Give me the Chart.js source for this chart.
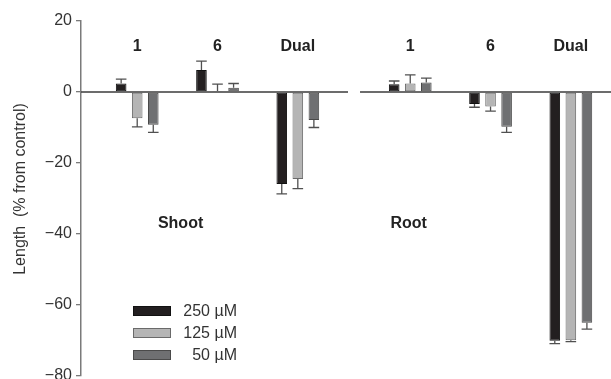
<!DOCTYPE html>
<html>
<head>
<meta charset="utf-8">
<script src="https://cdn.jsdelivr.net/npm/chart.js@4.4.1/dist/chart.umd.min.js"></script>
<style>
  html, body { margin: 0; padding: 0; background: #fff; }
  #wrap { width: 611px; height: 379px; }
</style>
</head>
<body>
<div id="wrap"><canvas id="myChart" width="611" height="379"></canvas></div>
<script>
const groups = ['1', '6', 'Dual'];
const panels = ['Shoot', 'Root'];
const doses = ['250 µM', '125 µM', '50 µM'];

// % change in length vs control
const shoot250 = [2.4, 6.2, -25.9];
const shoot125 = [-7.4, 0.3, -24.5];
const shoot50 = [-9.2, 1.2, -7.9];
const root250 = [2.2, -3.4, -70.1];
const root125 = [2.4, -4.1, -69.9];
const root50 = [2.7, -9.8, -65.0];

// one-sided error bars (SE)
const shoot250Err = [1.2, 2.5, 2.8];
const shoot125Err = [2.4, 1.9, 2.7];
const shoot50Err = [2.2, 1.2, 2.1];
const root250Err = [0.9, 0.9, 0.8];
const root125Err = [2.4, 1.3, 0.4];
const root50Err = [1.2, 1.6, 1.8];

const yTicks = [20, 0, -20, -40, -60, -80];

const FONT = "'Liberation Sans', Arial, sans-serif";

// category slots: each panel is a run of empty slots, groups sit every 5th slot
const panelSlots = 17;
const firstSlot = 3;
const groupStep = 5;
const nSlots = 33;
const slotOf = (p, g) => p * panelSlots + firstSlot + g * groupStep;

const labels = new Array(nSlots).fill('');
panels.forEach((p, pi) => groups.forEach((g, gi) => { labels[slotOf(pi, gi)] = g; }));

function spread(shootVals, rootVals) {
  const out = new Array(nSlots).fill(null);
  [shootVals, rootVals].forEach((vals, pi) => vals.forEach((v, gi) => { out[slotOf(pi, gi)] = v; }));
  return out;
}

const values = [[shoot250, root250], [shoot125, root125], [shoot50, root50]];
const errs = [[shoot250Err, root250Err], [shoot125Err, root125Err], [shoot50Err, root50Err]];
const fills = ['#231f20', '#b5b5b5', '#6f7072'];
const edges = ['#111111', '#6a6a6a', '#4a4a4a'];

const datasets = doses.map((d, i) => ({
  label: d,
  data: spread(values[i][0], values[i][1]),
  errors: spread(errs[i][0], errs[i][1]),
  backgroundColor: fills[i],
  borderColor: edges[i],
  borderWidth: 1,
  borderSkipped: false,
  categoryPercentage: 3,
  barPercentage: 0.66
}));

const decor = {
  id: 'decor',
  afterDatasetsDraw(chart) {
    const {ctx, chartArea, scales: {x, y}} = chart;
    const slotW = x.getPixelForValue(1) - x.getPixelForValue(0);
    const split = x.getPixelForValue(panelSlots) - slotW / 2;
    const y0 = y.getPixelForValue(0);
    ctx.save();

    // zero line, broken between the two panels
    ctx.strokeStyle = '#3c3c3c';
    ctx.lineWidth = 1.5;
    ctx.beginPath();
    ctx.moveTo(chartArea.left, y0); ctx.lineTo(split - 6, y0);
    ctx.moveTo(split + 6, y0); ctx.lineTo(chartArea.right, y0);
    ctx.stroke();

    // error bars
    ctx.strokeStyle = '#505050';
    ctx.lineWidth = 1.3;
    chart.data.datasets.forEach((ds, i) => {
      const meta = chart.getDatasetMeta(i);
      ds.data.forEach((v, j) => {
        if (v === null) return;
        const bar = meta.data[j];
        const sgn = v < 0 ? -1 : 1;
        const end = y.getPixelForValue(v + sgn * ds.errors[j]);
        const w = bar.width / 2;
        ctx.beginPath();
        ctx.moveTo(bar.x, bar.y); ctx.lineTo(bar.x, end);
        ctx.moveTo(bar.x - w, end); ctx.lineTo(bar.x + w, end);
        ctx.stroke();
      });
    });

    // group labels
    ctx.fillStyle = '#222';
    ctx.textAlign = 'center';
    ctx.textBaseline = 'middle';
    ctx.font = 'bold 16px ' + FONT;
    labels.forEach((t, i) => {
      if (t) ctx.fillText(t, x.getPixelForValue(i), chartArea.top + 26);
    });

    // panel labels
    const panelX = [5.7, 19.9];
    panels.forEach((p, pi) => {
      const px = x.getPixelForValue(0) + slotW * panelX[pi];
      ctx.fillText(p, px, y.getPixelForValue(-37));
    });

    // y title
    ctx.font = '16px ' + FONT;
    ctx.fillStyle = '#333';
    ctx.save();
    ctx.translate(21, 189);
    ctx.rotate(-Math.PI / 2);
    ctx.fillText('Length  (% from control)', 0, 0);
    ctx.restore();

    // legend
    ctx.font = '16px ' + FONT;
    ctx.textAlign = 'right';
    chart.data.datasets.forEach((ds, i) => {
      const ly = 311 + i * 22;
      const lx = chartArea.left + 52;
      ctx.fillStyle = ds.backgroundColor;
      ctx.strokeStyle = ds.borderColor;
      ctx.lineWidth = 1;
      ctx.fillRect(lx, ly - 5, 38, 10);
      ctx.strokeRect(lx + 0.5, ly - 4.5, 37, 9);
      ctx.fillStyle = '#333';
      ctx.fillText(ds.label, lx + 104, ly + 1);
    });
    ctx.restore();
  }
};

const myChart = new Chart(document.getElementById('myChart'), {
  type: 'bar',
  data: { labels: labels, datasets: datasets },
  options: {
    responsive: false,
    devicePixelRatio: 1,
    animation: false,
    layout: { padding: { top: 21, bottom: 3, left: 0, right: 0 } },
    plugins: { legend: { display: false }, tooltip: { enabled: false } },
    scales: {
      x: { display: false, offset: true },
      y: {
        min: -80, max: 20,
        afterBuildTicks: s => { s.ticks = yTicks.map(v => ({ value: v })); },
        afterFit: s => { s.width = 81; s.paddingTop = 0; s.paddingBottom = 0; },
        ticks: {
          color: '#333',
          padding: 4,
          font: { size: 16, family: FONT },
          callback: v => String(v).replace('-', '\u2212')
        },
        grid: { drawOnChartArea: false, drawTicks: true, tickLength: 5, color: '#7a7a7a', lineWidth: 1.3 },
        border: { color: '#7a7a7a', width: 1.5 }
      }
    }
  },
  plugins: [decor]
});
</script>
</body>
</html>
